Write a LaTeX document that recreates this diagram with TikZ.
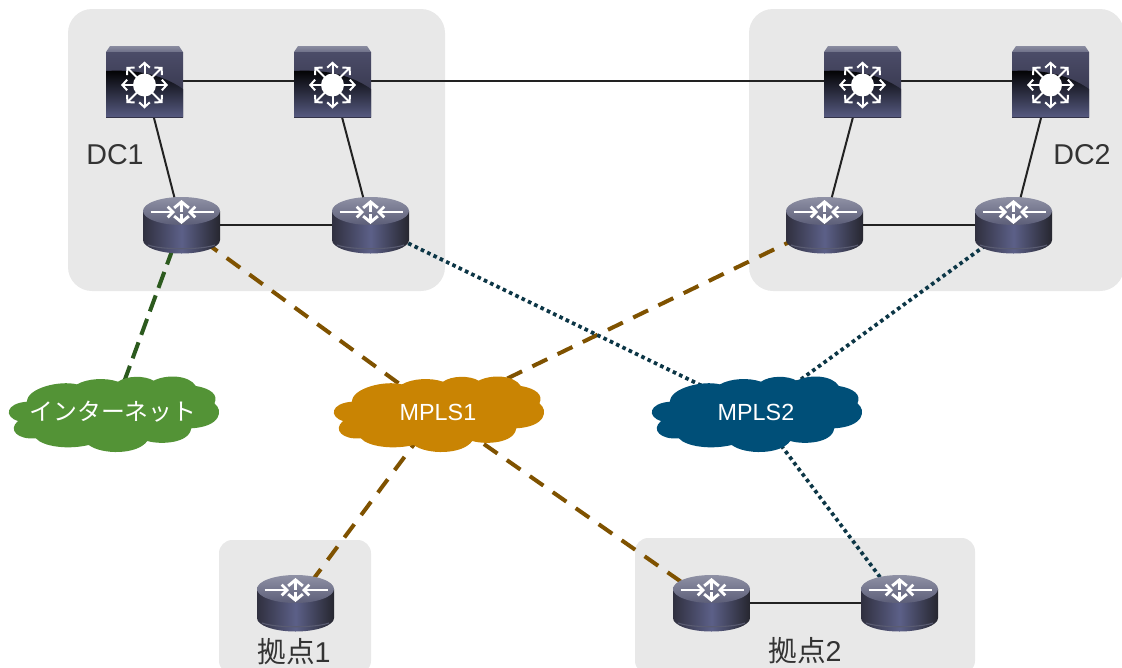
\documentclass[tikz,border=0pt]{standalone}
\usepackage{fontspec}
\setmainfont{Liberation Sans}
\newfontfamily\jpfont{Noto Sans CJK JP}
\usetikzlibrary{arrows.meta,calc}
\definecolor{panelgray}{HTML}{E8E8E8}
\definecolor{linkblack}{HTML}{222222}
\definecolor{brownlink}{HTML}{7F5200}
\definecolor{greenlink}{HTML}{2C5A1E}
\definecolor{navylink}{HTML}{0C3646}
\definecolor{cloudgreen}{HTML}{539336}
\definecolor{cloudorange}{HTML}{C98403}
\definecolor{cloudblue}{HTML}{004F78}
\definecolor{labeltext}{HTML}{333333}
\definecolor{BevelTop}{HTML}{8A8CA0}
\definecolor{BevelLow}{HTML}{6E7088}
\definecolor{FaceTop}{HTML}{4B4C68}
\definecolor{FaceMid}{HTML}{2E2E42}
\definecolor{SwMid}{HTML}{26263A}
\definecolor{FaceLow}{HTML}{565A80}
\definecolor{RtDark}{HTML}{30303F}
\definecolor{RtDarker}{HTML}{26262F}
\definecolor{RtMid}{HTML}{5C6088}
\definecolor{RtRim}{HTML}{5A5C72}
\definecolor{RtTopA}{HTML}{8F91A5}
\definecolor{RtTopB}{HTML}{5C5E78}
\pgfdeclarelayer{panels}
\pgfdeclarelayer{links}
\pgfsetlayers{panels,links,main}
\tikzset{
  panelbox/.style={fill=panelgray,draw=none,rounded corners=#1,inner sep=0pt,outer sep=0pt},
  iconspot/.style={inner sep=0pt,outer sep=0pt,minimum width=57.75pt,minimum height=45pt},
  solidlink/.style={draw=linkblack,line width=1.5pt},
  brownleg/.style={draw=brownlink,line width=3pt,dash pattern=on 12.4pt off 8.6pt},
  greenleg/.style={draw=greenlink,line width=3pt,dash pattern=on 12.75pt off 6pt},
  navyleg/.style={draw=navylink,line width=2.8pt,dash pattern=on 2.7pt off 2.55pt},
  dclabel/.style={text=labeltext,font=\fontsize{21.5}{24}\selectfont,inner sep=0pt},
  cloudlabel/.style={text=white,font=\fontsize{17.5}{20}\selectfont,inner sep=0pt},
  whitearrow/.style={draw=white,line width=1.5pt,-{Straight Barb[length=3.6pt,width=8pt,line width=1.5pt]}},
  whitearrowflat/.style={draw=white,line width=1.4pt,-{Straight Barb[length=4pt,width=8pt,line width=2pt]}},
  whitearrowwide/.style={draw=white,line width=2.2pt,-{Straight Barb[length=4.5pt,width=11pt,line width=2.2pt]}},
}
% switch icon, centred on the node position
\newcommand{\switchicon}[1]{%
  \begin{scope}[shift={(#1)}]
    \shade[top color=BevelTop,bottom color=BevelLow] (-34.5,-35) -- (34.5,-35) -- (38.5,-29) -- (-38.5,-29) -- cycle;
    \shade[top color=FaceTop,bottom color=FaceMid] (-38.5,-29) rectangle (38.5,36);
    \begin{scope}
      \clip (-38.5,-29) rectangle (38.5,36);
      \shade[shading angle=22,top color=black,middle color=SwMid,bottom color=FaceLow]
        (-38.5,-10) .. controls (-5,-12) and (20,-5) .. (38.5,8) -- (38.5,36) -- (-38.5,36) -- cycle;
    \end{scope}
    \fill[white] (0,4) circle (11.5);
    \foreach \a in {0,90,180,270}{
      \draw[whitearrow] ($(0,4)+(\a:11)$) -- ($(0,4)+(\a:23.5)$);
    }
    \foreach \a in {45,135,225,315}{
      \draw[whitearrow] ($(0,4)+(\a:11)$) -- ($(0,4)+(\a:25.5)$);
    }
  \end{scope}}
% router icon
\newcommand{\routericon}[1]{%
  \begin{scope}[shift={(#1)}]
    \shade[left color=RtDark,right color=RtDarker,middle color=RtMid]
      (-38.5,-14) -- (-38.5,15) arc[start angle=180,end angle=0,x radius=38.5,y radius=13.5] -- (38.5,-14) -- cycle;
    \draw[RtRim,line width=.8pt] (-33.5,20) arc[start angle=155,end angle=25,x radius=37,y radius=6.5];
    \shade[top color=RtTopA,bottom color=RtTopB] (0,-14) ellipse [x radius=38.5,y radius=14];
    \draw[whitearrowwide] (0,-13.5) -- (0,-25);
    \draw[whitearrowwide] (0,-11) -- (0,-1);
    \draw[whitearrowflat] (-31,-13) -- (-6.5,-13);
    \draw[whitearrowflat] (32,-13) -- (6.5,-13);
  \end{scope}}
\newcommand{\cloudicon}[2]{%
  \fill[#1,shift={(#2)},xscale=.357,yscale=.333,shift={(-316,-156)}]
   (75,125) .. controls (75,85) and (165,60) .. (215,73)
   .. controls (245,55) and (295,52) .. (330,65)
   .. controls (355,46) and (405,46) .. (430,62)
   .. controls (465,42) and (530,45) .. (548,78)
   .. controls (590,85) and (612,105) .. (600,130)
   .. controls (625,150) and (620,200) .. (535,205)
   .. controls (530,250) and (450,255) .. (412,243)
   .. controls (385,285) and (285,285) .. (248,255)
   .. controls (190,270) and (120,260) .. (100,235)
   .. controls (50,240) and (20,210) .. (50,183)
   .. controls (10,170) and (15,130) .. (75,125) -- cycle;}
\begin{document}
\begin{tikzpicture}[x=0.75pt,y=-0.75pt]
\useasboundingbox (0,0) rectangle (1122,668);
% panels
\begin{pgfonlayer}{panels}
\clip (0,0) rectangle (1122,668);
\node[panelbox=18pt,minimum width=282.75pt,minimum height=211.5pt] (dc1) at (256.5,150) {};
\node[panelbox=18pt,minimum width=281.25pt,minimum height=211.5pt] (dc2) at (936.5,150) {};
\node[panelbox=10pt,minimum width=114pt,minimum height=100.5pt] (site1) at (295,607) {};
\node[panelbox=10pt,minimum width=255pt,minimum height=102pt] (site2) at (805,606) {};
\end{pgfonlayer}
% icons
\switchicon{144.5,81}
\switchicon{332.5,81}
\switchicon{862.5,81}
\switchicon{1050.5,81}
\routericon{181.5,225}
\routericon{370.5,225}
\routericon{824.5,225}
\routericon{1013.5,225}
\routericon{295.5,603}
\routericon{711.5,603}
\routericon{899.5,603}
\cloudicon{cloudgreen}{113,412}
\cloudicon{cloudorange}{438,412}
\cloudicon{cloudblue}{756,412}
% named nodes
\node[iconspot] (sw1) at (144.5,81) {};
\node[iconspot] (sw2) at (332.5,81) {};
\node[iconspot] (sw3) at (862.5,81) {};
\node[iconspot] (sw4) at (1050.5,81) {};
\node[iconspot] (rt1) at (181.5,225) {};
\node[iconspot] (rt2) at (370.5,225) {};
\node[iconspot] (rt3) at (824.5,225) {};
\node[iconspot] (rt4) at (1013.5,225) {};
\node[iconspot] (rt5) at (295.5,603) {};
\node[iconspot] (rt6) at (711.5,603) {};
\node[iconspot] (rt7) at (899.5,603) {};
\node[cloudlabel,font=\jpfont\fontsize{17.9}{20}\selectfont] (inet) at (113,412) {インターネット};
\node[cloudlabel] (mpls1) at (438,412) {MPLS1};
\node[cloudlabel] (mpls2) at (756,412) {MPLS2};
\node[dclabel] (dc1label) at (115,155) {DC1};
\node[dclabel] (dc2label) at (1082,155) {DC2};
\node[dclabel] (site1label) at (294,652) {{\jpfont 拠点}1};
\node[dclabel] (site2label) at (805,651) {{\jpfont 拠点}2};
% connectors
\begin{pgfonlayer}{links}
\draw[solidlink] (sw1.center) -- (sw2.center);
\draw[solidlink] (sw2.center) -- (sw3.center);
\draw[solidlink] (sw3.center) -- (sw4.center);
\draw[solidlink] (rt1.center) -- (rt2.center);
\draw[solidlink] (rt3.center) -- (rt4.center);
\draw[solidlink] (rt6.center) -- (rt7.center);
\draw[solidlink] (sw1.center) -- (rt1.center);
\draw[solidlink] (sw2.center) -- (rt2.center);
\draw[solidlink] (sw3.center) -- (rt3.center);
\draw[solidlink] (sw4.center) -- (rt4.center);
\draw[greenleg] (rt1.center) -- (inet.center);
\draw[brownleg] (rt1.center) -- (mpls1.center);
\draw[brownleg] (rt3.center) -- (mpls1.center);
\draw[brownleg] (mpls1.center) -- (rt5.center);
\draw[brownleg] (mpls1.center) -- (rt6.center);
\draw[navyleg] (rt2.center) -- (mpls2.center);
\draw[navyleg] (rt4.center) -- (mpls2.center);
\draw[navyleg] (mpls2.center) -- (rt7.center);
\end{pgfonlayer}
\end{tikzpicture}
\end{document}
